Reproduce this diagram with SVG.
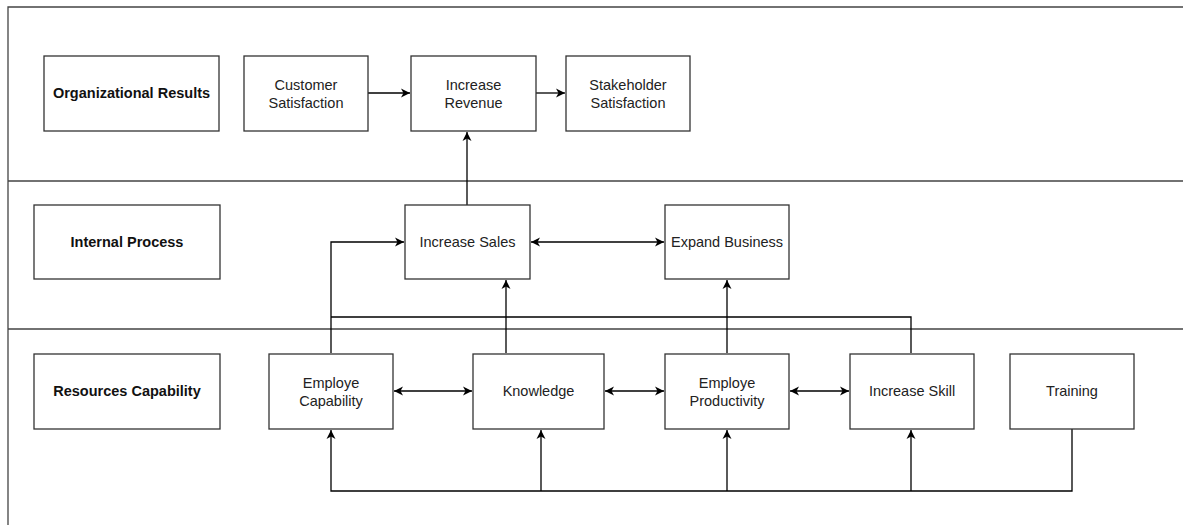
<svg xmlns="http://www.w3.org/2000/svg" width="1183" height="525" viewBox="0 0 1183 525">
<style>
.box{fill:#fff;stroke:#333;stroke-width:1.3}
.lane{fill:none;stroke:#444;stroke-width:1.3}
.t{font-family:"Liberation Sans",Arial,sans-serif;font-size:14.5px;fill:#222;text-anchor:middle}
.b{font-weight:bold;fill:#111}
.c{fill:none;stroke:#000;stroke-width:1.3}
</style>
<defs>
<marker id="ah" markerWidth="12" markerHeight="12" refX="10" refY="6" orient="auto-start-reverse" markerUnits="userSpaceOnUse">
<path d="M1,1.5 L10,6 L1,10.5 L3.5,6 Z" fill="#000"/>
</marker>
</defs>
<rect width="1183" height="525" fill="#fff"/>
<g id="lanes">
<path class="lane" d="M1183,7 H8 V525 M8,181 H1183 M8,329 H1183"/>
</g>
<g id="connectors">
<path class="c" d="M368,93 H410" marker-end="url(#ah)"/>
<path class="c" d="M536,93 H565" marker-end="url(#ah)"/>
<path class="c" d="M467,205 V132" marker-end="url(#ah)"/>
<path class="c" d="M531,242 H664" marker-start="url(#ah)" marker-end="url(#ah)"/>
<path class="c" d="M331,353 V242 H404" marker-end="url(#ah)"/>
<path class="c" d="M911,353 V317 H331"/>
<path class="c" d="M506,353 V280" marker-end="url(#ah)"/>
<path class="c" d="M727,353 V280" marker-end="url(#ah)"/>
<path class="c" d="M394,391 H472" marker-start="url(#ah)" marker-end="url(#ah)"/>
<path class="c" d="M605,391 H664" marker-start="url(#ah)" marker-end="url(#ah)"/>
<path class="c" d="M790,391 H849" marker-start="url(#ah)" marker-end="url(#ah)"/>
<path class="c" d="M1072,429 V491 H331 V430" marker-end="url(#ah)"/>
<path class="c" d="M541,491 V430" marker-end="url(#ah)"/>
<path class="c" d="M727,491 V430" marker-end="url(#ah)"/>
<path class="c" d="M911,491 V430" marker-end="url(#ah)"/>
</g>
<g id="org-results"><rect class="box" x="44" y="56" width="175" height="75"/><text class="t b" x="131.5" y="98">Organizational Results</text></g>
<g id="customer-satisfaction"><rect class="box" x="244" y="56" width="124" height="75"/><text class="t" x="306" y="90">Customer</text><text class="t" x="306" y="108">Satisfaction</text></g>
<g id="increase-revenue"><rect class="box" x="411" y="56" width="125" height="75"/><text class="t" x="473.5" y="90">Increase</text><text class="t" x="473.5" y="108">Revenue</text></g>
<g id="stakeholder-satisfaction"><rect class="box" x="566" y="56" width="124" height="75"/><text class="t" x="628" y="90">Stakeholder</text><text class="t" x="628" y="108">Satisfaction</text></g>
<g id="internal-process"><rect class="box" x="34" y="205" width="186" height="74"/><text class="t b" x="127" y="247">Internal Process</text></g>
<g id="increase-sales"><rect class="box" x="405" y="205" width="125" height="74"/><text class="t" x="467.5" y="247">Increase Sales</text></g>
<g id="expand-business"><rect class="box" x="665" y="205" width="124" height="74"/><text class="t" x="727" y="247">Expand Business</text></g>
<g id="resources-capability"><rect class="box" x="34" y="354" width="186" height="75"/><text class="t b" x="127" y="396">Resources Capability</text></g>
<g id="employe-capability"><rect class="box" x="269" y="354" width="124" height="75"/><text class="t" x="331" y="388">Employe</text><text class="t" x="331" y="406">Capability</text></g>
<g id="knowledge"><rect class="box" x="473" y="354" width="131" height="75"/><text class="t" x="538.5" y="396">Knowledge</text></g>
<g id="employe-productivity"><rect class="box" x="665" y="354" width="124" height="75"/><text class="t" x="727" y="388">Employe</text><text class="t" x="727" y="406">Productivity</text></g>
<g id="increase-skill"><rect class="box" x="850" y="354" width="124" height="75"/><text class="t" x="912" y="396">Increase Skill</text></g>
<g id="training"><rect class="box" x="1010" y="354" width="124" height="75"/><text class="t" x="1072" y="396">Training</text></g>
</svg>
